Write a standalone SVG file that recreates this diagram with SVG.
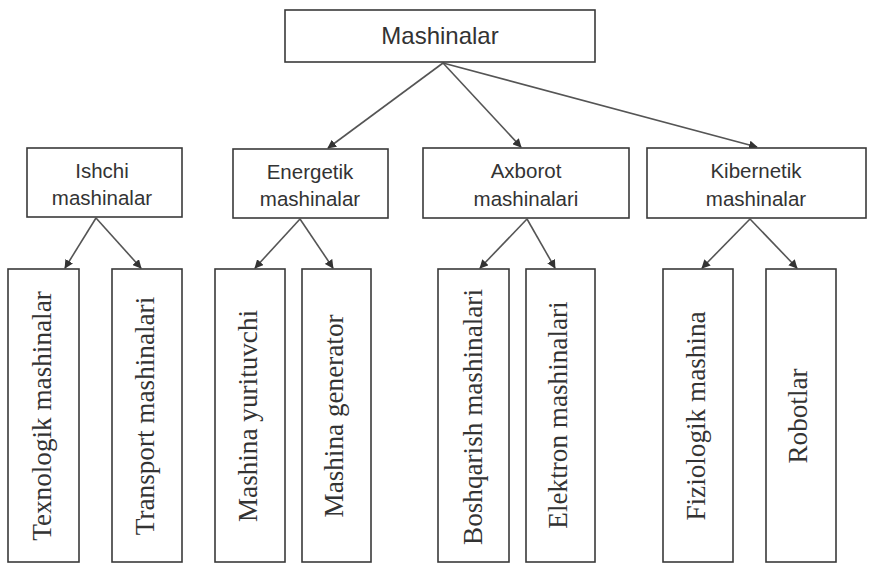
<svg xmlns="http://www.w3.org/2000/svg" width="869" height="563" viewBox="0 0 869 563">
<style>
.box{fill:#fff;stroke:#3a3a3a;stroke-width:1.6}
.t1{font-family:"Liberation Sans",Arial,sans-serif;font-size:20.5px;fill:#333;text-anchor:middle}
.t0{font-family:"Liberation Sans",Arial,sans-serif;font-size:24px;fill:#333;text-anchor:middle}
.t2{font-family:"Liberation Serif","Times New Roman",serif;font-size:27.2px;fill:#333;text-anchor:middle}
.c{stroke:#555;stroke-width:1.6;fill:none;marker-end:url(#ah)}
</style>
<defs>
<marker id="ah" viewBox="0 0 10 10" refX="9" refY="5" markerWidth="5.5" markerHeight="5.5" orient="auto" markerUnits="strokeWidth">
<path d="M0,0 L10,5 L0,10 z" fill="#333"/>
</marker>
</defs>
<rect width="869" height="563" fill="#fff"/>
<g id="connectors">
<line class="c" x1="443" y1="63" x2="328" y2="148"/>
<line class="c" x1="443" y1="63" x2="521" y2="147"/>
<line class="c" x1="443" y1="63" x2="757" y2="147"/>
<line class="c" x1="96" y1="218" x2="65" y2="268"/>
<line class="c" x1="96" y1="218" x2="141" y2="268"/>
<line class="c" x1="300" y1="219" x2="255" y2="268"/>
<line class="c" x1="300" y1="219" x2="333" y2="268"/>
<line class="c" x1="527" y1="219" x2="480" y2="268"/>
<line class="c" x1="527" y1="219" x2="555" y2="268"/>
<line class="c" x1="750" y1="219" x2="702" y2="268"/>
<line class="c" x1="750" y1="219" x2="797" y2="268"/>
</g>
<g id="mashinalar">
<rect class="box" x="285" y="10" width="310" height="52"/>
<text class="t0" x="440" y="44">Mashinalar</text>
</g>
<g id="ishchi">
<rect class="box" x="27" y="148" width="155" height="69"/>
<text class="t1" x="102" y="178">Ishchi</text>
<text class="t1" x="102" y="205">mashinalar</text>
</g>
<g id="energetik">
<rect class="box" x="233" y="149" width="155" height="69"/>
<text class="t1" x="310" y="179">Energetik</text>
<text class="t1" x="310" y="206">mashinalar</text>
</g>
<g id="axborot">
<rect class="box" x="423" y="148" width="206" height="70"/>
<text class="t1" x="526" y="178">Axborot</text>
<text class="t1" x="526" y="206">mashinalari</text>
</g>
<g id="kibernetik">
<rect class="box" x="647" y="148" width="219" height="70"/>
<text class="t1" x="756" y="178">Kibernetik</text>
<text class="t1" x="756" y="206">mashinalar</text>
</g>
<g id="texnologik">
<rect class="box" x="8" y="269" width="71" height="293"/>
<text class="t2" x="51" y="416" transform="rotate(-90 51 416)">Texnologik mashinalar</text>
</g>
<g id="transport">
<rect class="box" x="112" y="269" width="70" height="293"/>
<text class="t2" x="154" y="416" transform="rotate(-90 154 416)">Transport mashinalari</text>
</g>
<g id="yurituvchi">
<rect class="box" x="215" y="269" width="70" height="293"/>
<text class="t2" x="257" y="416" transform="rotate(-90 257 416)">Mashina yurituvchi</text>
</g>
<g id="generator">
<rect class="box" x="302" y="269" width="69" height="293"/>
<text class="t2" x="343" y="416" transform="rotate(-90 343 416)">Mashina generator</text>
</g>
<g id="boshqarish">
<rect class="box" x="438" y="269" width="71" height="293"/>
<text class="t2" x="482" y="417" transform="rotate(-90 482 417)">Boshqarish mashinalari</text>
</g>
<g id="elektron">
<rect class="box" x="526" y="269" width="69" height="293"/>
<text class="t2" x="567" y="415" transform="rotate(-90 567 415)">Elektron mashinalari</text>
</g>
<g id="fiziologik">
<rect class="box" x="663" y="269" width="70" height="293"/>
<text class="t2" x="705" y="416" transform="rotate(-90 705 416)">Fiziologik mashina</text>
</g>
<g id="robotlar">
<rect class="box" x="766" y="269" width="70" height="293"/>
<text class="t2" x="807" y="416" transform="rotate(-90 807 416)">Robotlar</text>
</g>
</svg>
